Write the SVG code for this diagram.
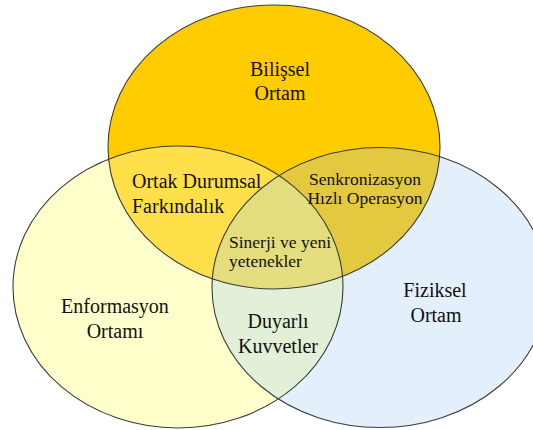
<svg xmlns="http://www.w3.org/2000/svg" width="533" height="430" viewBox="0 0 533 430">
  <style>
    .lbl { fill: #111; text-anchor: middle; font-family: 'Liberation Serif', 'DejaVu Serif', serif; }
    .big { font-size: 20px; }
    .small { font-size: 17.5px; }
    .left { text-anchor: start; }
    .edge { fill: none; stroke: #3c3c3c; stroke-width: 1.1; }
  </style>
  <defs>
    <ellipse id="eTop" cx="274" cy="147" rx="166" ry="142"/>
    <ellipse id="eLeft" cx="178" cy="287" rx="165" ry="141"/>
    <ellipse id="eRight" cx="380" cy="287.5" rx="168" ry="140"/>
    <clipPath id="cTop"><use href="#eTop"/></clipPath>
    <clipPath id="cLeft"><use href="#eLeft"/></clipPath>
  </defs>

  <rect width="533" height="430" fill="#ffffff"/>

  <!-- base sets -->
  <g id="bilissel">
    <use href="#eTop" fill="#ffcc00"/>
  </g>
  <g id="enformasyon">
    <use href="#eLeft" fill="#ffffcc"/>
  </g>
  <g id="fiziksel">
    <use href="#eRight" fill="#e3effb"/>
  </g>

  <!-- pairwise overlaps -->
  <g id="ortak-durumsal" clip-path="url(#cTop)">
    <use href="#eLeft" fill="#ffe04a"/>
  </g>
  <g id="senkronizasyon" clip-path="url(#cTop)">
    <use href="#eRight" fill="#e3c940"/>
  </g>
  <g id="duyarli-kuvvetler" clip-path="url(#cLeft)">
    <use href="#eRight" fill="#e3f0d8"/>
  </g>

  <!-- triple overlap -->
  <g id="sinerji" clip-path="url(#cTop)">
    <g clip-path="url(#cLeft)">
      <use href="#eRight" fill="#e3dd7e"/>
    </g>
  </g>

  <!-- outlines -->
  <g id="outlines">
    <use href="#eTop" class="edge"/>
    <use href="#eLeft" class="edge"/>
    <use href="#eRight" class="edge"/>
  </g>

  <!-- labels -->
  <g id="labels">
    <text class="lbl big" x="280" y="76">Bilişsel</text>
    <text class="lbl big" x="280" y="100">Ortam</text>

    <text class="lbl big left" x="132" y="188">Ortak Durumsal</text>
    <text class="lbl big left" x="132" y="213">Farkındalık</text>

    <text class="lbl small" x="365" y="185">Senkronizasyon</text>
    <text class="lbl small" x="365" y="204">Hızlı Operasyon</text>

    <text class="lbl small left" x="229" y="248">Sinerji ve yeni</text>
    <text class="lbl small left" x="229" y="267">yetenekler</text>

    <text class="lbl big" x="115" y="313">Enformasyon</text>
    <text class="lbl big" x="115" y="338">Ortamı</text>

    <text class="lbl big" x="435" y="297">Fiziksel</text>
    <text class="lbl big" x="436" y="322">Ortam</text>

    <text class="lbl big" x="278" y="328">Duyarlı</text>
    <text class="lbl big" x="278" y="353">Kuvvetler</text>
  </g>
</svg>
